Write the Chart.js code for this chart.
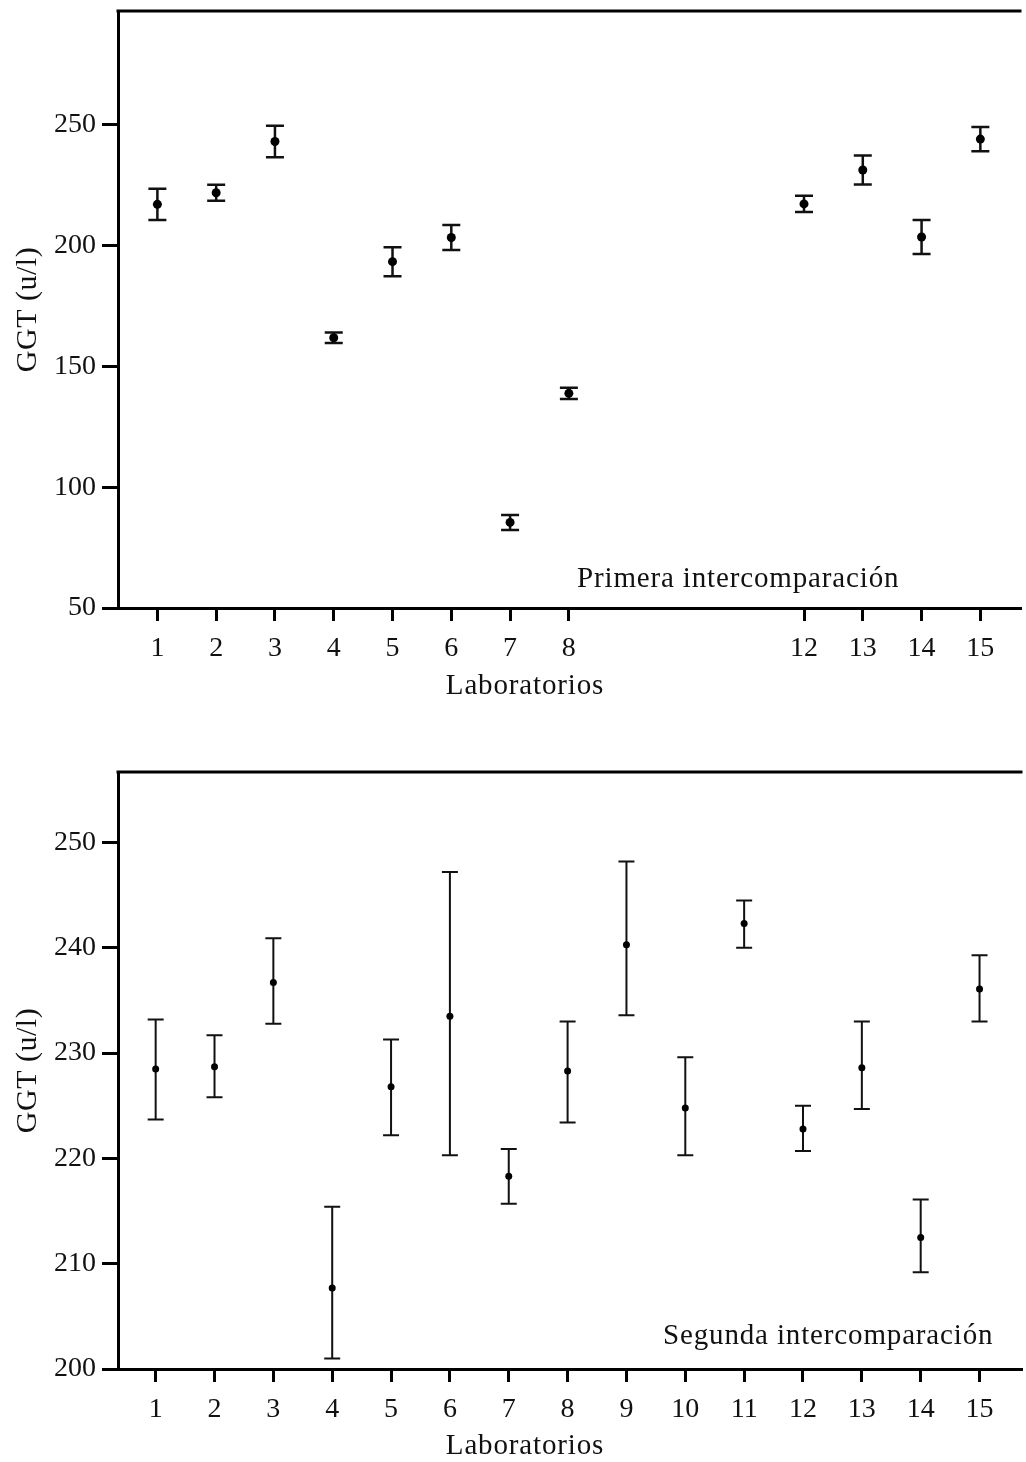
<!DOCTYPE html>
<html lang="es">
<head>
  <meta charset="UTF-8">
  <title>GGT | Intercomparación de laboratorios</title>
  <script src="https://cdn.jsdelivr.net/npm/chart.js@4.4.1/dist/chart.umd.min.js"></script>
  <style>
    * { box-sizing: border-box; }
    html, body { margin: 0; padding: 0; background: #fff; overflow: hidden; }
    .panel { position: absolute; left: 0; width: 1026px; }
    #panelTop { top: 0; height: 730px; }
    #panelBottom { top: 730px; height: 732px; }
  </style>
</head>
<body>

  <div class="panel" id="panelTop"><canvas id="chartTop"></canvas></div>
  <div class="panel" id="panelBottom"><canvas id="chartBottom"></canvas></div>

  <script>
    // Primera intercomparación
    const labsTop = [1, 2, 3, 4, 5, 6, 7, 8, 12, 13, 14, 15];
    const meanTop = [217, 221.8, 243, 161.8, 193.3, 203.3, 85.4, 138.8, 217.2, 231.2, 203.5, 244];
    const errTop  = [6.5, 3.3, 6.5, 2.2, 6, 5.2, 3.1, 2.3, 3.4, 6, 7, 5];
    const yTicksTop = [50, 100, 150, 200, 250];

    // Segunda intercomparación
    const labsBot = [1, 2, 3, 4, 5, 6, 7, 8, 9, 10, 11, 12, 13, 14, 15];
    const meanBot = [228.5, 228.7, 236.7, 207.7, 226.8, 233.5, 218.3, 228.3, 240.3, 224.8, 242.3, 222.8, 228.6, 212.5, 236.1];
    const lowBot  = [223.7, 225.8, 232.8, 201.0, 222.2, 220.3, 215.7, 223.4, 233.6, 220.3, 240.0, 220.7, 224.7, 209.2, 233.0];
    const highBot = [233.2, 231.7, 240.9, 215.4, 231.3, 247.2, 220.9, 233.0, 248.2, 229.6, 244.5, 225.0, 233.0, 216.1, 239.3];
    const yTicksBot = [200, 210, 220, 230, 240, 250];

    const FONT = '"Liberation Serif", "Times New Roman", serif';
    const INK = '#111';

    // error bars, top frame line, axis titles and the panel note
    const errorFrame = {
      id: 'errorFrame',
      beforeDatasetsDraw(chart) {
        const { ctx, scales: { x, y } } = chart;
        const ds = chart.data.datasets[0];
        ctx.save();
        ctx.strokeStyle = INK;
        ctx.lineWidth = ds.stemWidth;
        ds.data.forEach((p, i) => {
          const px = x.getPixelForValue(p.x);
          const p1 = y.getPixelForValue(ds.errLo[i]);
          const p2 = y.getPixelForValue(ds.errHi[i]);
          const c = ds.capHalf;
          ctx.beginPath();
          ctx.moveTo(px, p1); ctx.lineTo(px, p2);
          ctx.moveTo(px - c, p1); ctx.lineTo(px + c, p1);
          ctx.moveTo(px - c, p2); ctx.lineTo(px + c, p2);
          ctx.stroke();
        });
        ctx.restore();
      },
      afterDraw(chart) {
        const { ctx, chartArea: a } = chart;
        const ds = chart.data.datasets[0];
        ctx.save();
        // top border
        ctx.strokeStyle = '#000';
        ctx.lineWidth = 3;
        ctx.beginPath();
        ctx.moveTo(a.left - 1.5, a.top);
        ctx.lineTo(a.right, a.top);
        ctx.stroke();

        ctx.fillStyle = INK;
        ctx.font = '29px ' + FONT;
        ctx.letterSpacing = '0.85px';
        ctx.textBaseline = 'middle';
        // x title
        ctx.textAlign = 'center';
        ctx.fillText('Laboratorios', 525, ds.xTitleY);
        // note
        ctx.textAlign = 'left';
        ctx.fillText(ds.note, ds.noteX, ds.noteY);
        // y title
        ctx.font = '30px ' + FONT;
        ctx.letterSpacing = '0.5px';
        ctx.translate(28, (a.top + a.bottom) / 2);
        ctx.rotate(-Math.PI / 2);
        ctx.textAlign = 'center';
        ctx.fillText('GGT (u/l)', 0, 0);
        ctx.restore();
      }
    };

    function makeChart(canvasId, cfg) {
      return new Chart(document.getElementById(canvasId), {
        type: 'scatter',
        data: {
          datasets: [{
            data: cfg.labs.map((l, i) => ({ x: l, y: cfg.mean[i] })),
            errLo: cfg.lo,
            errHi: cfg.hi,
            stemWidth: cfg.stemWidth,
            capHalf: cfg.capHalf,
            note: cfg.note,
            noteX: cfg.noteX,
            noteY: cfg.noteY,
            xTitleY: cfg.xTitleY,
            pointRadius: cfg.radius,
            pointHoverRadius: cfg.radius,
            pointBackgroundColor: '#000',
            pointBorderWidth: 0
          }]
        },
        options: {
          responsive: true,
          maintainAspectRatio: false,
          animation: false,
          layout: { padding: { top: cfg.padTop, right: 0, left: 0, bottom: 0 } },
          plugins: { legend: { display: false }, tooltip: { enabled: false } },
          scales: {
            x: {
              type: 'linear',
              min: cfg.xMin,
              max: cfg.xMax,
              afterBuildTicks: s => { s.ticks = cfg.labs.map(v => ({ value: v })); },
              afterFit: s => { s.height = cfg.xAxisH; },
              ticks: { color: INK, font: { family: FONT, size: 28 }, padding: 11, maxRotation: 0, autoSkip: false },
              grid: { display: true, drawOnChartArea: false, drawTicks: true, tickLength: 13, tickWidth: 3, tickColor: '#000' },
              border: { display: true, width: 3, color: '#000' }
            },
            y: {
              min: cfg.yMin,
              max: cfg.yMax,
              afterBuildTicks: s => { s.ticks = cfg.yTicks.map(v => ({ value: v })); },
              afterFit: s => { s.width = 118; },
              ticks: { color: INK, font: { family: FONT, size: 28, lineHeight: 0.3 }, padding: 6 },
              grid: { display: true, drawOnChartArea: false, drawTicks: true, tickLength: 16, tickWidth: 3, tickColor: '#000' },
              border: { display: true, width: 3, color: '#000' }
            }
          }
        },
        plugins: [errorFrame]
      });
    }

    makeChart('chartTop', {
      labs: labsTop,
      mean: meanTop,
      lo: meanTop.map((m, i) => m - errTop[i]),
      hi: meanTop.map((m, i) => m + errTop[i]),
      yTicks: yTicksTop,
      yMin: 50, yMax: 297,
      xMin: 0.33, xMax: 15.7,
      padTop: 11, xAxisH: 122,
      radius: 4.5, stemWidth: 2.5, capHalf: 9,
      note: 'Primera intercomparación', noteX: 577, noteY: 579,
      xTitleY: 686
    });

    makeChart('chartBottom', {
      labs: labsBot,
      mean: meanBot,
      lo: lowBot,
      hi: highBot,
      yTicks: yTicksBot,
      yMin: 200, yMax: 256.7,
      xMin: 0.36, xMax: 15.73,
      padTop: 42, xAxisH: 93,
      radius: 3.5, stemWidth: 2, capHalf: 8,
      note: 'Segunda intercomparación', noteX: 663, noteY: 606,
      xTitleY: 716
    });
  </script>
</body>
</html>
